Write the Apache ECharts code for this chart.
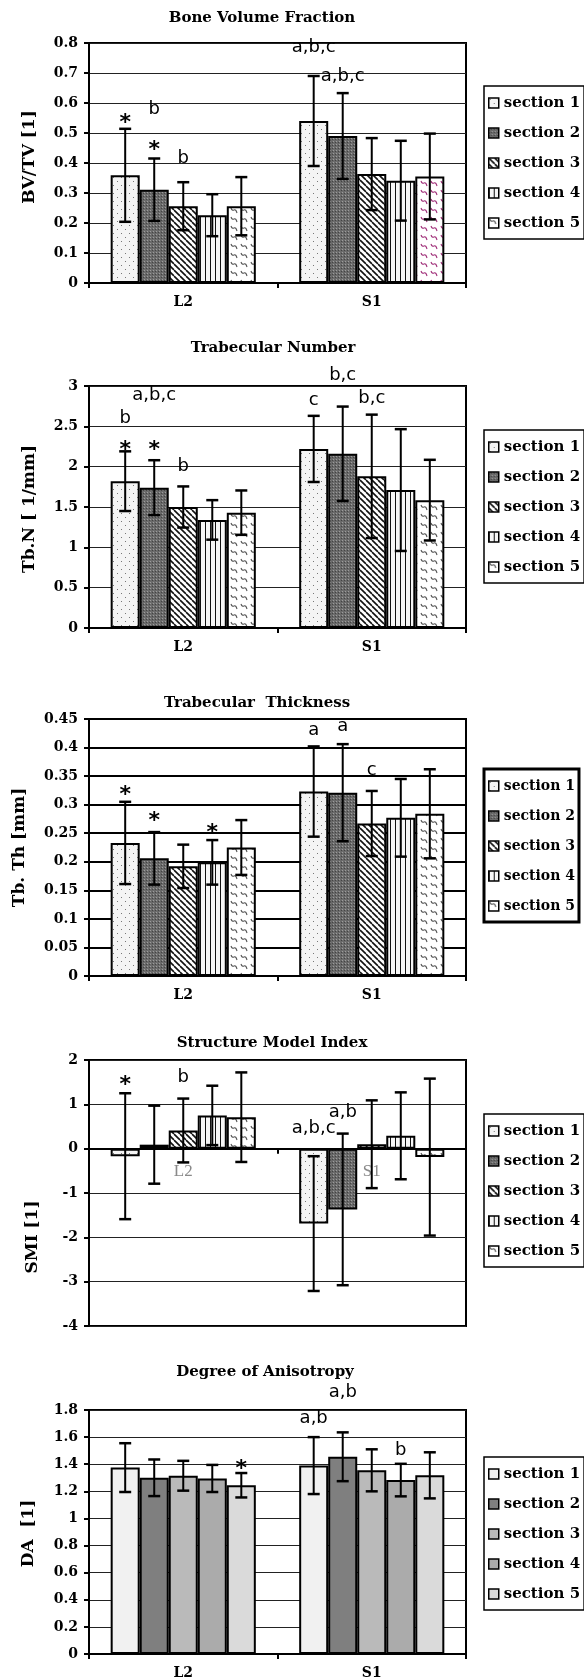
<!DOCTYPE html>
<html><head><meta charset="utf-8">
<script src="https://cdn.jsdelivr.net/npm/echarts@6/dist/echarts.min.js"></script>
<style>html,body{margin:0;padding:0;background:#fff}#c{width:584px;height:1680px}</style>
</head><body><div id="c"></div>
<script>
// ---------------- DATA ----------------
const categories = ['L2', 'S1'];
const sections = ['section 1', 'section 2', 'section 3', 'section 4', 'section 5'];

// Bone Volume Fraction  (BV/TV [1])
const bvtvL2 = [0.359, 0.311, 0.256, 0.226, 0.256];
const bvtvS1 = [0.54, 0.49, 0.363, 0.341, 0.355];
const bvtvSdL2 = [0.155, 0.104, 0.08, 0.07, 0.097];
const bvtvSdS1 = [0.15, 0.143, 0.12, 0.133, 0.143];
const bvtvNotes = [['L2', 0, 0.548, '*'], ['L2', 1, 0.578, 'b'], ['L2', 1, 0.459, '*'], ['L2', 2, 0.414, 'b'],
                   ['S1', 0, 0.787, 'a,b,c'], ['S1', 1, 0.69, 'a,b,c']];

// Trabecular Number  (Tb.N [1/mm])
const tbnL2 = [1.82, 1.74, 1.50, 1.34, 1.43];
const tbnS1 = [2.22, 2.16, 1.88, 1.71, 1.585];
const tbnSdL2 = [0.37, 0.34, 0.255, 0.245, 0.275];
const tbnSdS1 = [0.41, 0.585, 0.765, 0.755, 0.50];
const tbnNotes = [['L2', 0, 2.60, 'b'], ['L2', 0, 2.26, '*'], ['L2', 1, 2.26, '*'], ['L2', 1, 2.89, 'a,b,c'],
                  ['L2', 2, 2.0, 'b'], ['S1', 0, 2.82, 'c'], ['S1', 1, 3.13, 'b,c'], ['S1', 2, 2.85, 'b,c']];

// Trabecular Thickness  (Tb.Th [mm])
const tbthL2 = [0.233, 0.206, 0.192, 0.199, 0.225];
const tbthS1 = [0.323, 0.321, 0.267, 0.277, 0.284];
const tbthSdL2 = [0.072, 0.046, 0.038, 0.039, 0.048];
const tbthSdS1 = [0.079, 0.085, 0.057, 0.068, 0.078];
const tbthNotes = [['L2', 0, 0.326, '*'], ['L2', 1, 0.28, '*'], ['L2', 3, 0.258, '*'],
                   ['S1', 0, 0.43, 'a'], ['S1', 1, 0.438, 'a'], ['S1', 2, 0.36, 'c']];

// Structure Model Index  (SMI [1])
const smiL2 = [-0.17, 0.09, 0.41, 0.75, 0.71];
const smiS1 = [-1.69, -1.37, 0.1, 0.29, -0.19];
const smiSdL2 = [1.42, 0.88, 0.72, 0.67, 1.01];
const smiSdS1 = [1.52, 1.71, 0.99, 0.98, 1.77];
const smiNotes = [['L2', 0, 1.55, '*'], ['L2', 2, 1.61, 'b'], ['S1', 0, 0.45, 'a,b,c'], ['S1', 1, 0.82, 'a,b']];

// Degree of Anisotropy  (DA [1])
const daL2 = [1.375, 1.30, 1.315, 1.295, 1.245];
const daS1 = [1.39, 1.455, 1.355, 1.283, 1.318];
const daSdL2 = [0.18, 0.135, 0.11, 0.10, 0.09];
const daSdS1 = [0.21, 0.18, 0.155, 0.12, 0.17];
const daNotes = [['L2', 4, 1.40, '*'], ['S1', 0, 1.74, 'a,b'], ['S1', 1, 1.93, 'a,b'], ['S1', 3, 1.50, 'b']];

// axis scales [min, max, interval]
const bvtvAxis = [0, 0.8, 0.1];
const tbnAxis = [0, 3, 0.5];
const tbthAxis = [0, 0.45, 0.05];
const smiAxis = [-4, 2, 1];
const daAxis = [0, 1.8, 0.2];

// ---------------- STYLE / LAYOUT ----------------
const SERIF = '"DejaVu Serif", serif';
const SANS = '"DejaVu Sans", sans-serif';
const GAP = 0.23;

function pat(kind, col) {
  const c = document.createElement('canvas');
  let w = 8, h = 8;
  if (kind === 'dense') { w = 3; h = 3; }
  if (kind === 'diag') { w = 6; h = 6; }
  if (kind === 'vert') { w = 5; h = 5; }
  if (kind === 'wave') { w = 10; h = 9; }
  c.width = w; c.height = h;
  const x = c.getContext('2d');
  x.fillStyle = '#fff'; x.fillRect(0, 0, w, h);
  if (kind === 'dots') {
    x.fillStyle = '#f4f4f4'; x.fillRect(0, 0, w, h);
    x.fillStyle = '#777'; x.fillRect(1, 1, 1, 1); x.fillRect(5, 5, 1, 1);
  } else if (kind === 'dense') {
    x.fillStyle = '#6a6a6a'; x.fillRect(0, 0, w, h);
    x.fillStyle = '#9c9c9c'; x.fillRect(0, 0, 1, 1);
    x.fillStyle = '#444'; x.fillRect(2, 1, 1, 1);
  } else if (kind === 'diag') {
    x.strokeStyle = '#111'; x.lineWidth = 1.6;
    for (const k of [-6, 0, 6]) { x.beginPath(); x.moveTo(k, 0); x.lineTo(k + 6, 6); x.stroke(); }
  } else if (kind === 'vert') {
    x.fillStyle = '#111'; x.fillRect(0, 0, 1, h);
    x.fillStyle = '#f6f6f6'; x.fillRect(1, 0, 4, h);
  } else if (kind === 'wave') {
    x.strokeStyle = col || '#444'; x.lineWidth = 1.1;
    x.beginPath(); x.moveTo(1, 1); x.quadraticCurveTo(2, 4, 4, 3); x.quadraticCurveTo(6, 2, 7, 6); x.stroke();
  }
  return { image: c, repeat: 'repeat' };
}
const patFills = [pat('dots'), pat('dense'), pat('diag'), pat('vert'), pat('wave', '#555')];
const pinkWave = pat('wave', '#a0307a');
const grayFills = ['#f1f1f1', '#7f7f7f', '#bababa', '#ababab', '#dadada'];

const panels = [
  { title: 'Bone Volume Fraction', yName: 'BV/TV [1]', l2: bvtvL2, s1: bvtvS1, sdL2: bvtvSdL2, sdS1: bvtvSdS1, notes: bvtvNotes, axis: bvtvAxis,
    top: 43, height: 240, titleX: 262, titleY: 18, nameX: 30, nameDy: -6, fills: patFills,
    legend: { top: 86, w: 1.5 }, grid: { c: '#222', w: 1.2 } },
  { title: 'Trabecular Number', yName: 'Tb.N [ 1/mm]', l2: tbnL2, s1: tbnS1, sdL2: tbnSdL2, sdS1: tbnSdS1, notes: tbnNotes, axis: tbnAxis,
    top: 386, height: 242, titleX: 273, titleY: 348, nameX: 30, nameDy: 2, fills: patFills,
    legend: { top: 430, w: 1.5 }, grid: { c: '#222', w: 1.2 } },
  { title: 'Trabecular  Thickness', yName: 'Tb. Th [mm]', l2: tbthL2, s1: tbthS1, sdL2: tbthSdL2, sdS1: tbthSdS1, notes: tbthNotes, axis: tbthAxis,
    top: 719, height: 257, titleX: 257, titleY: 703, nameX: 20, nameDy: 0, fills: patFills,
    legend: { top: 769, w: 3 }, grid: { c: '#000', w: 2 } },
  { title: 'Structure Model Index', yName: 'SMI [1]', l2: smiL2, s1: smiS1, sdL2: smiSdL2, sdS1: smiSdS1, notes: smiNotes, axis: smiAxis,
    top: 1060, height: 266, titleX: 272, titleY: 1043, nameX: 33, nameDy: 44, fills: patFills,
    legend: { top: 1114, w: 1.5 }, grid: { c: '#222', w: 1.2 }, innerLabels: true },
  { title: 'Degree of Anisotropy', yName: 'DA  [1]', l2: daL2, s1: daS1, sdL2: daSdL2, sdS1: daSdS1, notes: daNotes, axis: daAxis,
    top: 1410, height: 247, titleX: 265, titleY: 1372, nameX: 29, nameDy: 0, fills: grayFills,
    legend: { top: 1457, w: 1.5 }, grid: { c: '#222', w: 1.2 } }
];

const GRID_LEFT = 89, GRID_W = 377;
const option = { animation: false, backgroundColor: '#fff', grid: [], xAxis: [], yAxis: [], series: [], legend: [], graphic: [] };

panels.forEach((p, pi) => {
  option.grid.push({ left: GRID_LEFT, top: p.top, width: GRID_W, height: p.height, show: true,
    borderColor: '#000', borderWidth: 2, backgroundColor: 'transparent', containLabel: false });
  // x axis sits on the value 0 of the y axis
  const zeroOffset = p.axis[0] < 0 ? -p.height * (0 - p.axis[0]) / (p.axis[1] - p.axis[0]) : 0;
  option.xAxis.push({ type: 'category', gridIndex: pi, data: categories, offset: zeroOffset,
    axisLine: { onZero: false, lineStyle: { color: '#000', width: 2 } },
    axisTick: { show: true, length: 5, lineStyle: { color: '#000', width: 2 } },
    axisLabel: p.innerLabels
      ? { color: '#8a8a8a', fontFamily: '"Liberation Serif", serif', fontSize: 17, margin: 14 }
      : { color: '#000', fontFamily: SERIF, fontWeight: 'bold', fontSize: 14, margin: 12 } });
  option.yAxis.push({ type: 'value', gridIndex: pi, min: p.axis[0], max: p.axis[1], interval: p.axis[2],
    axisLine: { show: true, lineStyle: { color: '#000', width: 2 } },
    axisTick: { show: true, length: 5, lineStyle: { color: '#000', width: 2 } },
    splitLine: { show: true, lineStyle: { color: p.grid.c, width: p.grid.w } },
    axisLabel: { color: '#000', fontFamily: SERIF, fontWeight: 'bold', fontSize: 14, margin: 11,
      formatter: v => String(+v.toFixed(2)) } });

  sections.forEach((name, s) => {
    const d1 = p.l2[s];
    const d2 = (pi === 0 && s === 4) ? { value: p.s1[s], itemStyle: { color: pinkWave } } : p.s1[s];
    option.series.push({ type: 'bar', name, xAxisIndex: pi, yAxisIndex: pi, barGap: '0%', barCategoryGap: (GAP * 100) + '%',
      data: [d1, d2], itemStyle: { color: p.fills[s], borderColor: '#000', borderWidth: 2 }, z: 2 });
  });

  const errData = [];
  [p.l2, p.s1].forEach((vals, c) => vals.forEach((v, s) => {
    const sd = (c === 0 ? p.sdL2 : p.sdS1)[s];
    errData.push([c, v - sd, v + sd, s]);
  }));
  option.series.push({ type: 'custom', xAxisIndex: pi, yAxisIndex: pi, silent: true, z: 5, clip: false,
    encode: { x: 0, y: [1, 2] }, data: errData,
    renderItem: (params, api) => {
      const c = api.value(0), lo = api.value(1), hi = api.value(2), s = api.value(3);
      const band = api.size([1, 0])[0];
      const bw = band * (1 - GAP) / 5;
      const cx = api.coord([c, 0])[0] + (s - 2) * bw;
      const yt = api.coord([c, hi])[1], yb = api.coord([c, lo])[1];
      const hw = 6;
      return { type: 'group', children: [
        { type: 'line', shape: { x1: cx, y1: yt, x2: cx, y2: yb }, style: { stroke: '#000', lineWidth: 2 } },
        { type: 'line', shape: { x1: cx - hw, y1: yt, x2: cx + hw, y2: yt }, style: { stroke: '#000', lineWidth: 2.5 } },
        { type: 'line', shape: { x1: cx - hw, y1: yb, x2: cx + hw, y2: yb }, style: { stroke: '#000', lineWidth: 2.5 } }
      ] };
    } });

  const notes = p.notes;
  option.series.push({ type: 'custom', xAxisIndex: pi, yAxisIndex: pi, silent: true, z: 6, clip: false,
    encode: { x: 0, y: 1 }, data: notes.map(n => [categories.indexOf(n[0]), n[2]]),
    renderItem: (params, api) => {
      const n = notes[params.dataIndex];
      const band = api.size([1, 0])[0];
      const bw = band * (1 - GAP) / 5;
      const pt = api.coord([api.value(0), api.value(1)]);
      const star = n[3] === '*';
      return { type: 'text', x: pt[0] + (n[1] - 2) * bw, y: pt[1] + (star ? 5 : 0),
        style: { text: n[3], fill: '#000', align: 'center', verticalAlign: 'middle',
          font: star ? 'bold 22px ' + SANS : '18px ' + SANS } };
    } });

  option.legend.push({ orient: 'vertical', left: 484, top: p.legend.top, padding: [8, 4, 7, 4],
    itemGap: 12, itemWidth: 10, itemHeight: 10, icon: 'rect', selectedMode: false,
    backgroundColor: '#fff', borderColor: '#000', borderWidth: p.legend.w,
    textStyle: { fontFamily: SERIF, fontWeight: 'bold', fontSize: pi === 2 ? 14 : 15, color: '#000', lineHeight: 18 },
    data: sections.map((n, s) => ({ name: n, itemStyle: { color: p.fills[s], borderColor: '#000', borderWidth: 1.5 } })) });

  option.graphic.push({ type: 'text', x: p.titleX, y: p.titleY,
    style: { text: p.title, font: 'bold 15px ' + SERIF, fill: '#000', align: 'center', verticalAlign: 'middle' } });
  option.graphic.push({ type: 'text', x: p.nameX, y: p.top + p.height / 2 + p.nameDy, rotation: Math.PI / 2,
    style: { text: p.yName, font: 'bold 17px ' + SERIF, fill: '#000', align: 'center', verticalAlign: 'middle' } });
});

const chart = echarts.init(document.getElementById('c'), null, { renderer: 'canvas', width: 584, height: 1680 });
chart.setOption(option);
</script></body></html>
